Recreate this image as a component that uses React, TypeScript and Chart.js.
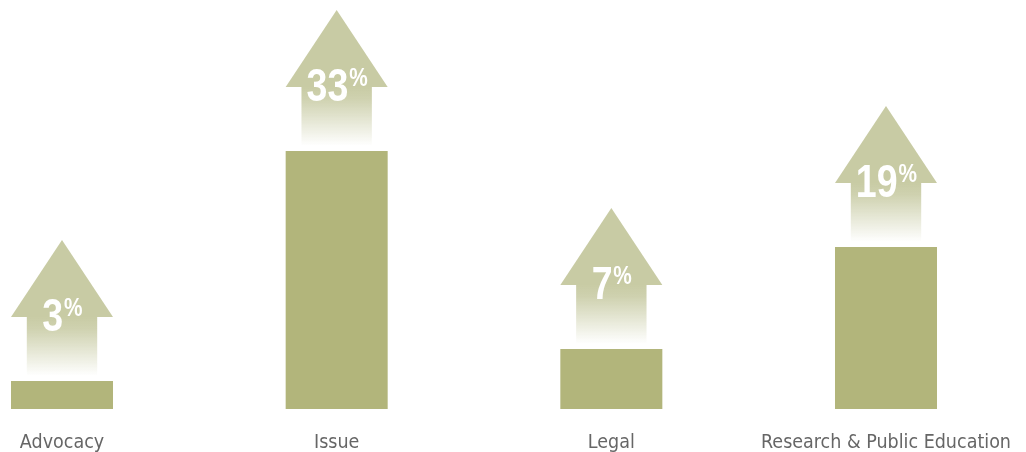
import React, { useEffect, useRef } from "react";
import { Chart, registerables } from "chart.js";

Chart.register(...registerables);

const categories = ["Advocacy", "Issue", "Legal", "Research & Public Education"];
const barValues = [2.8, 25.8, 6.0, 16.2];
const growthLabels = ["3", "33", "7", "19"];

const BAR_COLOR = "#b2b57b";
const HEAD_COLOR = "rgba(200,203,164,1)";
const HEAD_FADE = "rgba(200,203,164,0)";

const arrowPlugin = {
  id: "growthArrows",
  afterDatasetsDraw(chart: any) {
    const ctx = chart.ctx as CanvasRenderingContext2D;
    const meta = chart.getDatasetMeta(0);
    meta.data.forEach((bar: any, i: number) => {
      const cx = bar.x;
      const top = bar.y;
      const w = bar.width;
      const tipY = top - 141;
      const baseY = top - 64;
      const shaftHalf = w * 0.345;
      ctx.save();
      ctx.fillStyle = HEAD_COLOR;
      ctx.beginPath();
      ctx.moveTo(cx, tipY);
      ctx.lineTo(cx + w / 2, baseY);
      ctx.lineTo(cx - w / 2, baseY);
      ctx.closePath();
      ctx.fill();
      const g = ctx.createLinearGradient(0, baseY - 0.5, 0, top - 5);
      g.addColorStop(0, HEAD_COLOR);
      g.addColorStop(0.2, "rgba(200,203,164,0.88)");
      g.addColorStop(1, HEAD_FADE);
      ctx.fillStyle = g;
      ctx.fillRect(cx - shaftHalf, baseY - 0.5, shaftHalf * 2, top - 5 - baseY + 0.5);
      const sx = 0.8;
      ctx.fillStyle = "#ffffff";
      ctx.textBaseline = "alphabetic";
      ctx.textAlign = "left";
      const bigFont = "bold 47px 'Liberation Sans', Arial, sans-serif";
      const smallFont = "bold 26px 'Liberation Sans', Arial, sans-serif";
      ctx.font = bigFont;
      const dW = ctx.measureText(growthLabels[i]).width * sx;
      ctx.font = smallFont;
      const pW = ctx.measureText("%").width * sx;
      const startX = cx - (dW + pW) / 2;
      ctx.translate(startX, 0);
      ctx.scale(sx, 1);
      ctx.font = bigFont;
      ctx.fillText(growthLabels[i], 0, top - 50);
      ctx.font = smallFont;
      ctx.fillText("%", dW / sx + 1, top - 65);
      ctx.restore();
    });
  },
};

export default function App() {
  const canvasRef = useRef<HTMLCanvasElement | null>(null);

  useEffect(() => {
    if (!canvasRef.current) return;
    const chart = new Chart(canvasRef.current, {
      type: "bar",
      data: {
        labels: categories,
        datasets: [
          {
            data: barValues,
            backgroundColor: BAR_COLOR,
            borderWidth: 0,
            barPercentage: 0.3714,
            categoryPercentage: 1,
            clip: false as any,
          },
        ],
      },
      options: {
        animation: false,
        responsive: true,
        maintainAspectRatio: false,
        layout: { padding: { left: 62, right: 140, top: 9, bottom: -25 } },
        plugins: { legend: { display: false }, tooltip: { enabled: false } },
        scales: {
          x: {
            offset: false,
            grid: { display: false, drawTicks: false },
            border: { display: false },
            ticks: {
              autoSkip: false,
              maxRotation: 0,
              padding: 0,
              color: "#666666",
              font: {
                family: "'DejaVu Sans Condensed', 'Liberation Sans Narrow', sans-serif",
                size: 19.5,
                lineHeight: "68px",
              },
            },
          },
          y: { display: false, min: 0, max: 40 },
        },
      },
      plugins: [arrowPlugin],
    });
    return () => chart.destroy();
  }, []);

  return (
    <div style={{ position: "fixed", left: 0, top: 0, width: 1026, height: 452, background: "#fff" }}>
      <canvas ref={canvasRef} />
    </div>
  );
}
